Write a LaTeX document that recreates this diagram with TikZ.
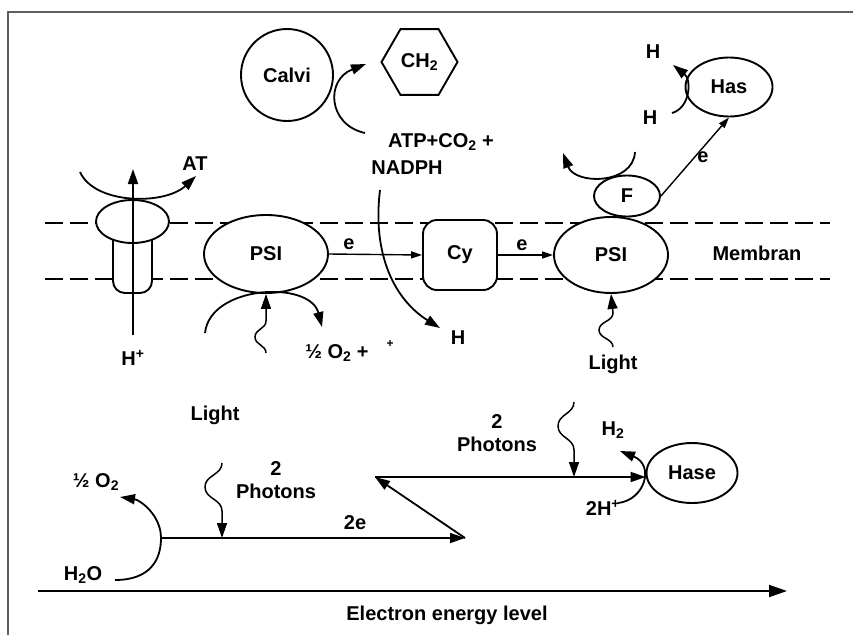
\documentclass[tikz,border=0pt]{standalone}
\usepackage{fontspec}
\setmainfont{Liberation Sans}
\usepackage{tikz}
\usetikzlibrary{calc,arrows.meta,positioning,shapes.geometric}
\definecolor{framex}{HTML}{5E5E5E}
\tikzset{
  lbl/.style={font=\bfseries\fontsize{20}{23}\selectfont,inner sep=1pt},
  blob/.style={draw,ellipse,line width=1.9pt,fill=white,inner sep=0pt,lbl},
  ar/.style={-{Triangle[length=15pt,width=10pt]},line width=1.8pt},
  ear/.style={-{Triangle[length=11pt,width=7pt]},line width=1.4pt},
  memb/.style={line width=1.9pt,dash pattern=on 18pt off 7pt},
  lightray/.style={ar,line width=1.5pt}
}
% wavy photon: start, target, bump, half length
\newcommand{\wiggle}[4]{\draw[lightray] (#1) .. controls ($(#1)+(0,#4*0.5)$) and ($(#1)+(#3,#4*0.5)$) .. ($(#1)+(#3,#4)$) .. controls ($(#1)+(#3,#4*1.5)$) and ($(#1)+(0,#4*1.5)$) .. ($(#1)+(0,#4*2)$) -- (#2);}

\begin{document}
\begin{tikzpicture}[x=1pt,y=-1pt]
\useasboundingbox (0,0) rectangle (853,635);
\draw[framex,line width=2pt] (8,635) -- (8,12) -- (853,12);
\draw[memb] (45,223) -- (830,223);
\draw[memb] (45,279) -- (830,279);
\draw[line width=1.9pt,fill=white,rounded corners=12pt] (113,232) -- (113,293) -- (152,293) -- (152,232);
\node[blob,minimum width=73pt,minimum height=43pt] (atps) at (132.5,221.5) {};
\node[blob,minimum width=124pt,minimum height=78pt] (psiA) at (266,254) {PSI};
\node[draw,lbl,line width=1.9pt,fill=white,rounded corners=14pt,minimum width=74pt,minimum height=70pt] (cy) at (460,255) {Cy};
\node[blob,minimum width=114pt,minimum height=76pt] (psiB) at (611,255) {PSI};
\node[blob,minimum width=66pt,minimum height=41pt] (fd) at (627,196) {F};
\node[blob,minimum width=87pt,minimum height=59pt] (has) at (729,87) {Has};
\node[draw,circle,lbl,line width=1.9pt,minimum size=92pt] (calvin) at (287,75) {Calvi};
\node[draw,regular polygon,regular polygon sides=6,lbl,line width=1.9pt,minimum size=76pt] (ch) at (419.5,62) {CH\textsubscript{2}};
\node[blob,minimum width=91pt,minimum height=60pt] (hase) at (692,473) {Hase};

\node[lbl] (atp) at (441,142) {ATP+CO\textsubscript{2} +};
\node[lbl] (nadph) at (407,168) {NADPH};
\node[lbl] (at) at (195,164) {AT};
\node[lbl] (hp) at (133,358) {H\textsuperscript{+}};
\node[lbl] (ea) at (349,244) {e};
\node[lbl] (eb) at (522,245) {e};
\node[lbl] (ec) at (703,157) {e};
\node[lbl] (membran) at (757,253) {Membran};
\node[lbl] (htop) at (653,52) {H};
\node[lbl] (hbot) at (650,118) {H};
\node[lbl] (hmid) at (458,338) {H};
\node[lbl] (oxa) at (337,353) {½ O\textsubscript{2} +};
\node[lbl] (oxplus) at (390,344) {\fontsize{12}{12}\selectfont +};
\node[lbl] (lightB) at (613,364) {Light};
\node[lbl] (lightA) at (215,415) {Light};
\node[lbl,align=center] (phA) at (276,480) {2\\Photons};
\node[lbl,align=center] (phB) at (497,433) {2\\Photons};
\node[lbl] (twoe) at (355,523) {2e};
\node[lbl] (oxb) at (96,482) {½ O\textsubscript{2}};
\node[lbl] (water) at (83,575) {H\textsubscript{2}O};
\node[lbl] (htwo) at (613,430) {H\textsubscript{2}};
\node[lbl] (twoh) at (603,508) {2H\textsuperscript{+}};
\node[lbl] (axis) at (447,615) {Electron energy level};

\coordinate (synBot) at (133,335); \coordinate (synTop) at (133,169);
\coordinate (atpA) at (80,172); \coordinate (atpB) at (196,176);
\coordinate (calvA) at (365,133); \coordinate (calvB) at (366,64);
\coordinate (nadA) at (380,190); \coordinate (nadB) at (440,328);
\coordinate (psiAl) at (205,333); \coordinate (psiAr) at (322,327);
\coordinate (fdA) at (635,152); \coordinate (fdB) at (563,153);
\coordinate (hasA) at (672,113); \coordinate (hasB) at (673,65);
\coordinate (rayA) at (266,353); \coordinate (rayB) at (613,347);
\coordinate (rayC) at (222,463); \coordinate (rayD) at (574,402);
\coordinate (h2oA) at (115,580); \coordinate (lvlS) at (161,538); \coordinate (o2tip) at (120,497);
\coordinate (lvlA) at (222,538); \coordinate (lvlE) at (465,538);
\coordinate (zig) at (375,477); \coordinate (lvlB) at (574,477);
\coordinate (twohA) at (618,503); \coordinate (h2tip) at (620,451);
\coordinate (axS) at (38,591); \coordinate (axE) at (787,591);

\draw[ar] (synBot) -- (synTop);
\draw[ar] (atpA) .. controls (95,205) and (165,205) .. (atpB);
\draw[ear] (psiA.east) -- (cy.west);
\draw[ear] (cy.east) -- (psiB.west);
\draw[ear] (fd.east) -- (has.south);
\draw[ar] (calvA) .. controls (328,125) and (325,80) .. (calvB);
\draw[ar] (nadA) .. controls (372,255) and (395,300) .. (nadB);
\draw[ar] (psiAl) .. controls (210,285) and (310,280) .. (psiAr);
\draw[ar] (fdA) .. controls (633,185) and (575,185) .. (fdB);
\draw[ar] (hasA) .. controls (690,108) and (692,80) .. (hasB);
\wiggle{rayA}{psiA.south}{-11}{-16}
\wiggle{rayB}{psiB.south}{-14}{-17}
\wiggle{rayC}{lvlA}{-17}{24}
\wiggle{rayD}{lvlB}{-16}{24}
\draw[ar] (h2oA) .. controls (150,580) and (161,560) .. (lvlS) .. controls (161,515) and (140,500) .. (o2tip);
\draw[ar] (lvlS) -- (lvlE);
\draw[ar] (lvlE) -- (zig);
\draw[ar] (zig) -- (zig -| hase.west);
\draw[ar] (twohA) .. controls (645,500) and (655,465) .. (h2tip);
\draw[-{Triangle[length=18pt,width=12pt]},line width=1.9pt] (axS) -- (axE);
\end{tikzpicture}
\end{document}
